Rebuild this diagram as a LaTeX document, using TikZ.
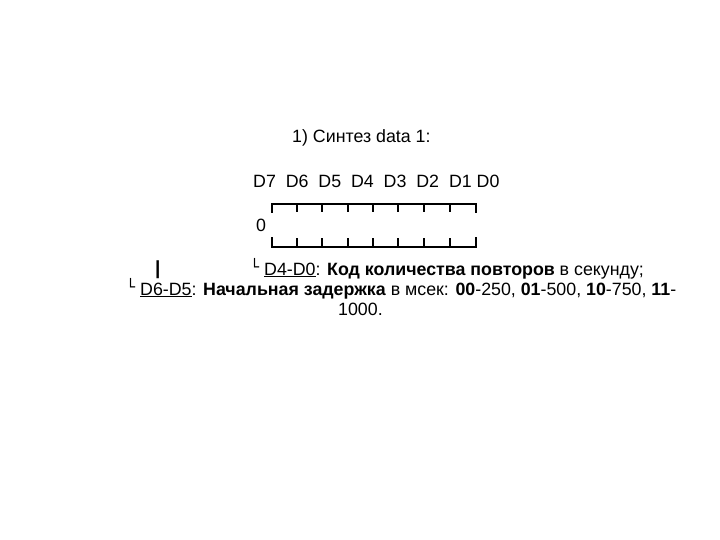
\documentclass[tikz,border=0pt]{standalone}
\usepackage{fontspec}
\setmainfont{Liberation Sans}
\newfontfamily\boxfont{DejaVu Sans}
\newcommand{\corner}{{\boxfont\bfseries\fontsize{15}{15}\selectfont\raisebox{2.5pt}{└}}}
\newcommand{\ul}[1]{\underline{#1}}
\tikzset{
  txt/.style={anchor=base west, inner sep=0pt, font=\fontsize{17.8}{21}\selectfont},
  boxline/.style={line width=1.8pt, line cap=rect}
}
\begin{document}
\begin{tikzpicture}[x=1pt,y=-1pt]
\useasboundingbox (0,0) rectangle (720,540);
\node[txt] (title) at (292,143) {1) Синтез data 1:};
\node[txt] (bits) at (253,188) {D7\ \ D6\ \ D5\ \ D4\ \ D3\ \ D2\ \ D1 D0};
\node[txt] (zero) at (256,232) {0};
% register box
\draw[boxline] (272,212) -- (272,204) -- (476,204) -- (476,212);
\foreach \x in {297,322,348,373,398,424,450}
  \draw[boxline] (\x,204) -- (\x,211);
\draw[boxline] (272,238) -- (272,247) -- (476,247) -- (476,238);
\foreach \x in {297,322,348,373,398,424,450}
  \draw[boxline] (\x,239) -- (\x,247);
\node[txt, font=\fontsize{19}{21}\selectfont\bfseries] (bar) at (155,274) {|};
\node[txt] (l1) at (250,275) {\corner\ \ul{D4-D0}: \textbf{Код количества повторов} в секунду;};
\node[txt] (l2) at (126,295) {\corner\ \ul{D6-D5}: \textbf{Начальная задержка} в мсек: \textbf{00}-250, \textbf{01}-500, \textbf{10}-750, \textbf{11}-};
\node[txt] (l3) at (338,315) {1000.};
\end{tikzpicture}
\end{document}
